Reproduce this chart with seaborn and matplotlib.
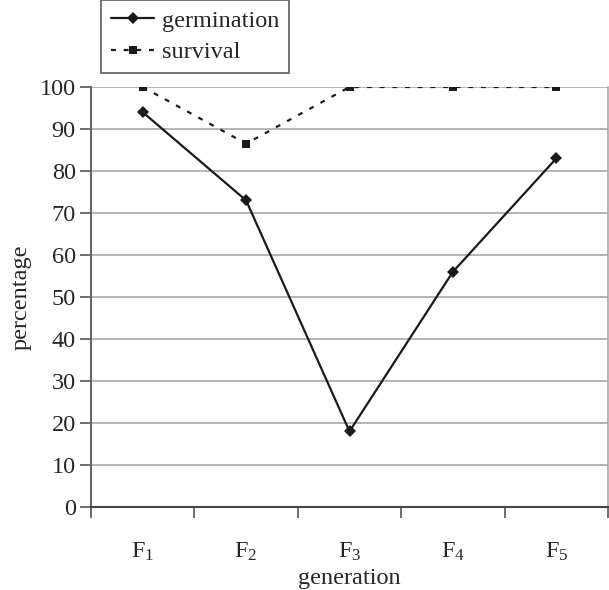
import matplotlib
matplotlib.use('Agg')
import matplotlib.pyplot as plt
import seaborn as sns
import pandas as pd

# data
generations = ['F1', 'F2', 'F3', 'F4', 'F5']
gen_labels = [r'F$_{\mathrm{1}}$', r'F$_{\mathrm{2}}$', r'F$_{\mathrm{3}}$',
              r'F$_{\mathrm{4}}$', r'F$_{\mathrm{5}}$']
germination = [94, 73, 18, 56, 83]
survival = [100, 86.5, 100, 100, 100]

sns.set_style('white')
plt.rcParams['font.family'] = ['Liberation Serif', 'DejaVu Serif']
plt.rcParams['mathtext.fontset'] = 'custom'
plt.rcParams['mathtext.rm'] = 'Liberation Serif'
plt.rcParams['mathtext.it'] = 'Liberation Serif:italic'

df = pd.DataFrame({'generation': generations,
                   'germination': germination,
                   'survival': survival})

fig = plt.figure(figsize=(6.09, 5.90), dpi=100)
ax = fig.add_axes([91 / 609, 83 / 590, 517 / 609, 420 / 590])

# gridlines
for v in range(10, 101, 10):
    ax.axhline(v, color='#a8a8a8', lw=1.2, zorder=0)

sns.lineplot(x='generation', y='germination', data=df, ax=ax, color='#1a1a1a',
             lw=1.6, marker='D', markersize=6.5, markeredgewidth=0,
             label='germination', sort=False)
sns.lineplot(x='generation', y='survival', data=df, ax=ax, color='#1a1a1a',
             lw=1.6, linestyle=(0, (2.2, 3.5)), marker='s', markersize=5.5,
             markeredgewidth=0, label='survival', sort=False)

ax.set_xlim(-0.5, 4.5)
ax.set_ylim(0, 100)
ax.set_yticks(range(0, 101, 10))
ax.tick_params(axis='y', labelsize=17.5, length=8, width=1.2, color='#555555',
               direction='out', left=True, pad=3)
ax.set_xticks(range(5))
ax.set_xticklabels(gen_labels)
ax.set_xticks([i - 0.5 for i in range(6)], minor=True)
ax.tick_params(axis='x', which='major', length=0, labelsize=17.5, pad=24)
ax.tick_params(axis='x', which='minor', length=8, width=1.2, color='#555555',
               direction='out', bottom=True)

for s in ['top']:
    ax.spines[s].set_visible(False)
ax.spines['left'].set_color('#666666')
ax.spines['left'].set_linewidth(1.5)
ax.spines['bottom'].set_color('#444444')
ax.spines['bottom'].set_linewidth(1.5)
ax.spines['right'].set_color('#aaaaaa')
ax.spines['right'].set_linewidth(1.2)

ax.set_xlabel('generation', fontsize=17.5, labelpad=4)
ax.set_ylabel('percentage', fontsize=17.5, labelpad=6)

leg = ax.legend(loc='upper left', bbox_to_anchor=(101 / 609, 1.0),
                bbox_transform=fig.transFigure, fontsize=17.5, frameon=True,
                fancybox=False, borderpad=0.4, handlelength=1.8,
                handletextpad=0.3, labelspacing=0.4, borderaxespad=0)
leg.get_frame().set_edgecolor('#333333')
leg.get_frame().set_linewidth(1.2)

fig.savefig('out.png', dpi=100)
